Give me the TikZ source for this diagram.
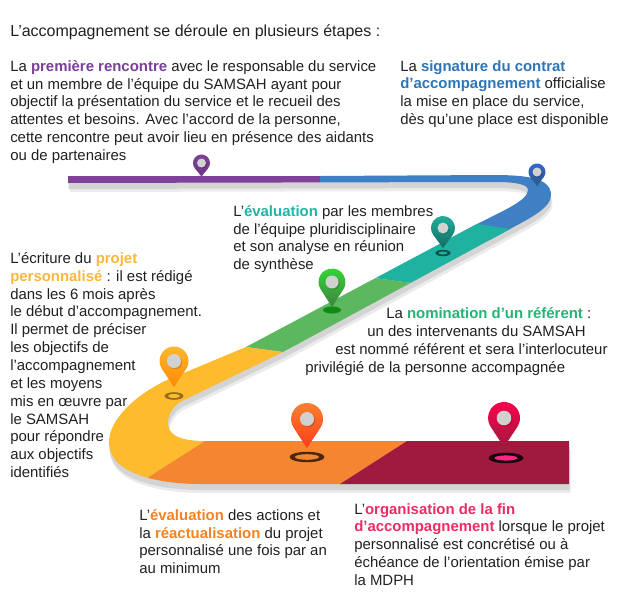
\documentclass[tikz,border=0pt]{standalone}
\usepackage{fontspec}
\setmainfont{Liberation Sans}
\definecolor{txt}{HTML}{231F20}
\definecolor{cpurple}{HTML}{7F4199}
\definecolor{cblue}{HTML}{3F7FC4}
\definecolor{cteal}{HTML}{20B2A0}
\definecolor{cgreen}{HTML}{5CB85F}
\definecolor{cyellow}{HTML}{FDBB2D}
\definecolor{corange}{HTML}{F58631}
\definecolor{cred}{HTML}{A01A3F}
\definecolor{lpurple}{HTML}{7B3F98}
\definecolor{lblue}{HTML}{2E75B6}
\definecolor{lteal}{HTML}{1FB5A6}
\definecolor{lgreen}{HTML}{22B573}
\definecolor{lyellow}{HTML}{FDB73D}
\definecolor{lorange}{HTML}{F58220}
\definecolor{lred}{HTML}{EA2C63}
\newcommand{\hl}[2]{\textcolor{#1}{\textbf{#2}}}
\newcommand{\roadpath}{(68,176) -- (320,176) -- (493,175) .. controls (527,175) and (551,178) .. (551,195) .. controls (551,208) and (530,218) .. (510,229) -- (283,352) -- (180,402) .. controls (172,408) and (168,415) .. (168,423) .. controls (168,433) and (176,441) .. (205,441) -- (569,441) -- (569,484) -- (200,484) .. controls (170,484) and (109,478) .. (109,442) .. controls (109,420) and (135,395) .. (167,380) -- (246,347) -- (477,224) .. controls (505,210) and (528,200) .. (528,190) .. controls (528,184) and (515,182) .. (493,182) -- (68,183) -- cycle}
% pin: cx, cy, r, tip y, top colour, bottom colour, disc radius
\newcommand{\pinmark}[7]{%
  \pgfmathsetmacro{\pa}{acos(#3/(#4-#2))}%
  \shade[top color=#5,bottom color=#6] (#1,#4) -- ($(#1,#2)+(90-\pa:#3)$) arc[start angle=90-\pa,end angle=-270+\pa,radius=#3] -- cycle;
  \fill[black,opacity=.15] (#1+1.2,#2+1.2) circle[radius=#7];
  \fill[pindisc] (#1,#2) circle[radius=#7];
}
\usetikzlibrary{calc}
\tikzset{
  pindisc/.style={fill=black!18},
  block/.style={anchor=north west,inner sep=0pt,align=left,text=txt,font=\fontsize{11.2}{13.4}\selectfont},
  single/.style={anchor=base west,inner sep=0pt,text=txt,font=\fontsize{11.2}{13.4}\selectfont},
}
\begin{document}
\begin{tikzpicture}[x=0.75pt,y=-0.75pt]
\useasboundingbox (0,0) rectangle (620,600);
% road shadow
\fill[black!8,shift={(1.5,9)}] \roadpath;
\fill[black!17,shift={(0.5,6)}] \roadpath;
% road segments
\begin{scope}
\clip \roadpath;
\fill[cpurple] (60,170) rectangle (320,190);
\fill[cblue] (320,170) rectangle (560,240) ;
\fill[cteal] (477,224) -- (510,229) -- (560,229) -- (412,283) -- (374,278) -- cycle;
\fill[cgreen] (374,278) -- (412,283) -- (283,352) -- (246,347) -- cycle;
\fill[cyellow] (246,347) -- (283,352) -- (205,441) -- (130,489) -- (100,490) -- (90,370) -- cycle;
\fill[corange] (205,441) -- (407,441) -- (340,484) -- (340,490) -- (130,489) -- cycle;
\fill[cred] (407,441) -- (575,441) -- (575,490) -- (340,490) -- (340,484) -- cycle;
\end{scope}
% ground rings
\fill[black!55!cteal] (443,253) ellipse[x radius=7.5,y radius=3.2];
\fill[cteal] (443,253) ellipse[x radius=4.5,y radius=1.5];
\fill[green!50!black!80!cgreen] (332,310) ellipse[x radius=9,y radius=3.5];
\fill[black!42!cyellow] (174,396) ellipse[x radius=9.5,y radius=3.8];
\fill[cyellow] (174,396) ellipse[x radius=6,y radius=2];
\fill[black!70!corange] (307,457) ellipse[x radius=17.5,y radius=5.2];
\fill[corange] (307,457) ellipse[x radius=12,y radius=2.8];
\fill[black!85!cred] (506,458) ellipse[x radius=17.5,y radius=5.2];
\fill[red!55!magenta!85!white] (506,458) ellipse[x radius=11.5,y radius=2.6];
% pins
\pinmark{201.5}{163}{8.5}{176.5}{cpurple}{cpurple!85!black}{4.5}
\pinmark{537}{172}{8.5}{186}{cblue!80!blue}{cblue!70!black}{4.5}
\pinmark{443}{228}{12}{248}{cteal}{cteal!60!black}{5.5}
\pinmark{332}{282}{13.5}{307}{green!45!cgreen}{cgreen!70!black}{6.5}
\pinmark{174}{361}{14.5}{387}{cyellow}{orange!85!cyellow}{7}
\pinmark{307}{419}{16}{448}{corange}{orange!30!red!90!white}{7}
\pinmark{504}{418}{16}{447}{red!70!magenta}{cred}{7.3}
% texts
\node[anchor=base west,inner sep=0pt,text=txt,font=\fontsize{12}{14}\selectfont] (title) at (10,36) {L’accompagnement se déroule en plusieurs étapes :};
\node[block] (premiere) at (10,60) {La \hl{lpurple}{première rencontre} avec le responsable du service\\et un membre de l’équipe du SAMSAH ayant pour\\objectif la présentation du service et le recueil des\\attentes et besoins. Avec l’accord de la personne,\\cette rencontre peut avoir lieu en présence des aidants\\ou de partenaires};
\node[block] (signature) at (400,60) {La \hl{lblue}{signature du contrat}\\\hl{lblue}{d’accompagnement} officialise\\la mise en place du service,\\dès qu’une place est disponible};
\node[block] (evaluation) at (233,205) {L’\hl{lteal}{évaluation} par les membres\\de l’équipe pluridisciplinaire\\et son analyse en réunion\\de synthèse};
\node[block] (ecriture) at (10,252) {L’écriture du \hl{lyellow}{projet}\\\hl{lyellow}{personnalisé} : il est rédigé\\dans les 6 mois après\\le début d’accompagnement.\\Il permet de préciser\\les objectifs de\\l’accompagnement\\et les moyens\\mis en œuvre par\\le SAMSAH\\pour répondre\\aux objectifs\\identifiés};
\node[single] (nomA) at (386,318) {La \hl{lgreen}{nomination d’un référent} :};
\node[single] (nomB) at (367,336) {un des intervenants du SAMSAH};
\node[single] (nomC) at (335,354) {est nommé référent et sera l’interlocuteur};
\node[single] (nomD) at (305,372) {privilégié de la personne accompagnée};
\node[block] (reactu) at (139,509) {L’\hl{lorange}{évaluation} des actions et\\la \hl{lorange}{réactualisation} du projet\\personnalisé une fois par an\\au minimum};
\node[block] (fin) at (354,503) {L’\hl{lred}{organisation de la fin}\\\hl{lred}{d'accompagnement} lorsque le projet\\personnalisé est concrétisé ou à\\échéance de l’orientation émise par\\la MDPH};
\end{tikzpicture}
\end{document}
